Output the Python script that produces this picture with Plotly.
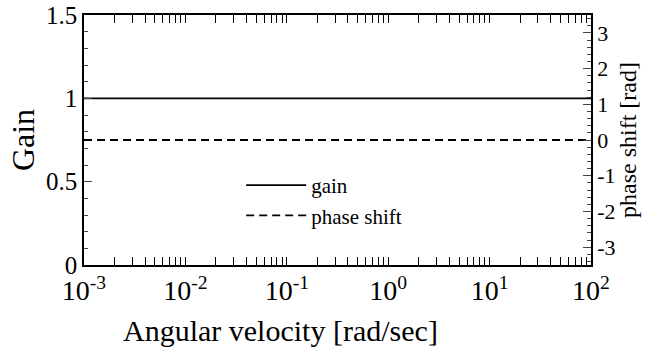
import plotly.graph_objects as go

omega = [0.001, 0.01, 0.1, 1, 10, 100]
gain = [1, 1, 1, 1, 1, 1]
phase = [0, 0, 0, 0, 0, 0]
x_tickvals = [0.001, 0.01, 0.1, 1, 10, 100]
x_ticktext = ["10<sup>-3</sup>", "10<sup>-2</sup>", "10<sup>-1</sup>", "10<sup>0</sup>", "10<sup>1</sup>", "10<sup>2</sup>"]
y2_tickvals = [-3, -2, -1, 0, 1, 2, 3]
y2_ticktext = ["-3", "-2", "-1", "0", "1", "2", "3"]

FONT = "Liberation Serif"
fig = go.Figure()
fig.add_trace(go.Scatter(x=omega, y=gain, mode="lines", name="gain",
                         line=dict(color="black", width=1.8)))
fig.add_trace(go.Scatter(x=omega, y=phase, mode="lines", name="phase shift", yaxis="y2",
                         line=dict(color="black", width=1.8, dash="8px,5px")))

fig.add_annotation(text="Angular velocity [rad/sec]", xref="paper", yref="paper",
                   x=0.387, y=-0.262, xanchor="center", yanchor="middle", showarrow=False,
                   font=dict(size=30, family=FONT, color="black"))

fig.update_layout(
    width=656, height=349,
    margin=dict(l=84, r=65, t=15, b=84, autoexpand=False),
    paper_bgcolor="white", plot_bgcolor="white",
    font=dict(family=FONT, color="black", size=24),
    showlegend=True,
    legend=dict(x=0.31, y=0.40, xanchor="left", yanchor="top", bgcolor="rgba(0,0,0,0)",
                font=dict(size=21, family=FONT), itemwidth=60, tracegroupgap=0),
    xaxis=dict(type="log", range=[-3, 2], tickvals=x_tickvals, ticktext=x_ticktext,
               ticks="inside", ticklen=8, tickcolor="black", showline=True,
               linecolor="black", linewidth=1.5,
               mirror="allticks", showgrid=False, zeroline=False,
               minor=dict(ticks="inside", ticklen=4, dtick="D1", showgrid=False,
                          tickcolor="black"),
               tickfont=dict(size=28)),
    yaxis=dict(range=[0, 1.5], dtick=0.5, ticks="inside", ticklen=8, showline=True,
               linecolor="black", linewidth=1.5, showgrid=False, zeroline=False, automargin=False,
               ticklabeloverflow="allow",
               minor=dict(ticks="inside", ticklen=4, dtick=0.1, showgrid=False),
               title=dict(text="Gain", font=dict(size=32), standoff=2),
               tickfont=dict(size=25)),
    yaxis2=dict(overlaying="y", side="right", range=[-3.5, 3.5],
                tickvals=y2_tickvals, ticktext=y2_ticktext,
                ticks="inside", ticklen=8, showline=True, linecolor="black", linewidth=1.5,
                showgrid=False, zeroline=False, automargin=False,
                ticklabeloverflow="allow",
                minor=dict(ticks="inside", ticklen=4, dtick=0.2, showgrid=False),
                title=dict(text="phase shift [rad]", font=dict(size=24), standoff=2),
                tickfont=dict(size=22)),
)
fig.write_html("out.html", config={"displayModeBar": False},
               post_script="document.body.style.margin='0';")
